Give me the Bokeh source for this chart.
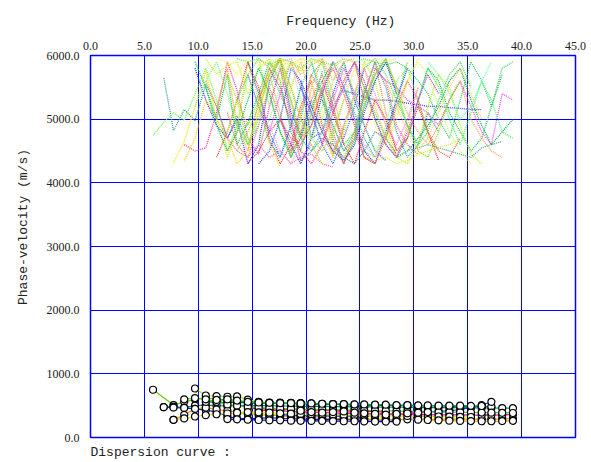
from bokeh.plotting import figure
from bokeh.models import Range1d, FixedTicker, PrintfTickFormatter, Title
from bokeh.embed import file_html
from bokeh.resources import INLINE

X_TICKS = [0, 5, 10, 15, 20, 25, 30, 35, 40, 45]
Y_TICKS = [0, 1000, 2000, 3000, 4000, 5000, 6000]
FREQ = [5.8, 6.8, 7.7, 8.7, 9.7, 10.7, 11.7, 12.7, 13.6, 14.6, 15.6, 16.6, 17.6, 18.6,
        19.5, 20.5, 21.5, 22.5, 23.5, 24.5, 25.4, 26.4, 27.4, 28.4, 29.4, 30.4, 31.3,
        32.3, 33.3, 34.3, 35.3, 36.3, 37.2, 38.2, 39.2]

# dotted (higher-mode) picks: colour, start index in FREQ, phase velocities
TOP_COLORS = ["#339999", "#66ff33", "#ffdd00", "#ff3399", "#3333ff", "#00cc33", "#ff9933",
              "#ff3333", "#ccff00", "#99ff00", "#ff33ff", "#33cc99", "#2255ff", "#33dd33",
              "#ff7733", "#ff5588", "#ffee33", "#88ff66", "#339999", "#3344ee", "#22bb44",
              "#ff9944", "#33cc66", "#ff44ff", "#aaff00", "#ff2222", "#00aa44", "#44aa88",
              "#ddee22", "#2233ff", "#ff66aa", "#ffcc00", "#55ee55", "#ffaa55", "#ff4444",
              "#338888", "#ccff66", "#33ff66",
              "#66ff66", "#ffff33", "#ff6666", "#00bb55", "#3366ff", "#99ff66", "#ff99cc",
              "#ffbb33", "#44dd88", "#cc33ff", "#77ee00", "#ff5555", "#55cc55", "#ffe066",
              "#33bbbb", "#ff77ff", "#88dd22", "#2244cc", "#ffcc66", "#66ffaa", "#ff3366",
              "#aadd00"]
TOP_START = [1, 0, 2, 3, 4, 4, 5, 6, 5, 7, 9, 8, 10, 11, 12, 13, 14, 15, 16, 18, 19, 20, 22,
             21, 17, 16, 23, 24, 20, 12, 6, 3, 8, 10, 9, 14, 21, 25,
             4, 6, 7, 5, 9, 10, 11, 13, 15, 17, 18, 19, 20, 12, 11, 16, 8, 14, 22, 26, 10, 7]
TOP_VEL = [
    [5650, 4820, 5150, 4980, 5550, 5200, 4700, 5050, 4600, 4900],
    [4750, 4950, 5100, 4980, 5400, 5800, 5300, 4500, 4900, 5700, 5950, 5200],
    [4320, 4650, 5200, 5750, 5000, 4400, 4800, 5900, 5300, 4600, 4250],
    [4600, 4500, 4550, 5100, 5900, 5450, 4700, 4450, 5200, 5800, 5000, 4350, 4600],
    [5800, 5300, 4900, 4700, 5000, 4300, 4600, 5600, 5950, 5100, 4750, 5300],
    [5900, 5500, 5000, 5700, 4600, 4950, 5400, 5900, 5600, 4800, 4500, 5100, 5750],
    [5600, 5200, 5800, 4900, 4500, 5300, 5700, 5100, 4400, 4800, 5500, 5950, 5400, 4700],
    [4400, 4800, 5300, 5900, 5500, 4700, 4300, 4600, 5200, 5600, 4900, 4450, 4850],
    [5950, 5700, 5850, 5900, 5400, 5800, 5950, 5600, 5900, 5750, 5950, 5850],
    [4800, 5300, 4600, 5100, 5700, 5950, 5200, 4700, 5000, 5500, 4400, 4900, 5300, 5800],
    [5700, 5200, 4800, 5400, 5900, 5500, 5100, 4600, 5300, 5800, 5400, 5000],
    [5300, 5700, 5200, 4650, 4400, 4900, 5500, 5900, 5300, 4700, 4300, 4650, 5200, 5600, 5900],
    [4300, 4500, 5000, 5800, 5600, 4700, 4800, 5400, 5900, 5300, 4900, 4500, 4350],
    [5400, 4800, 4450, 5000, 5700, 5900, 5200, 4600, 4800, 5500, 5100, 4700, 5300, 5900],
    [5800, 5300, 4700, 4900, 5500, 4600, 4300, 4800, 5400, 5900, 5100, 4500],
    [4500, 5100, 5700, 5400, 4800, 4300, 4700, 5200, 5800, 5600, 4900, 4600, 4450],
    [5950, 5600, 5000, 4700, 5300, 5800, 5500, 4900, 4600, 5000, 5600, 5950],
    [4700, 5200, 5900, 5700, 5000, 4500, 4400, 4900, 5600, 5800, 5300, 4700, 4500],
    [5300, 4900, 4500, 4700, 5400, 5900, 5500, 4800, 4400, 4600, 5100, 4800],
    [5450, 5400, 5350, 5300, 5300, 5280, 5250, 5230, 5200, 5200, 5180, 5170, 5150, 5150],
    [5900, 5500, 5000, 4600, 4400, 4700, 5300, 5800, 5600, 5100, 4800, 4500, 4700, 5200, 5700],
    [5300, 5700, 5950, 5500, 5100, 4800, 4600, 4900, 5300, 5600, 5000, 4700, 4500, 4400],
    [5850, 5900, 5800, 5600, 5400, 5000, 4700, 5300, 5900, 5600, 5200, 5800, 5900],
    [5800, 5600, 5500, 5300, 5200, 5100, 4900, 5300, 5600, 5200, 4800, 4600, 5400, 5300],
    [4500, 4800, 5400, 5900, 5600, 4900, 4400, 4300, 4600, 5200, 5700, 5500, 4900, 4450, 4300],
    [5600, 5100, 4600, 4300, 4800, 5300, 5000, 4500, 4700, 5200, 4800, 4350],
    [4400, 4500, 4700, 4900, 5200, 5600, 5800, 5300, 4900, 4600, 4800, 5000],
    [4500, 4550, 4600, 4550, 4500, 4450, 4400, 4550, 4600, 4650],
    [4400, 4350, 4400, 4300, 4350, 4450, 4500, 4550, 4600, 4700],
    [5000, 4600, 4300, 4700, 5400, 5900, 5500, 5000, 4500, 4300, 4800, 5300, 5800],
    [5200, 4700, 4500, 4400, 4600, 4400, 4500, 4300, 4400, 4450, 4300, 4250],
    [4350, 4700, 5300, 5000, 4700, 4300, 4500, 5100, 5700, 5900, 5400],
    [5950, 5900, 5950, 5850, 5950, 5900, 5800, 5950, 5900, 5850, 5950, 5900, 5950, 5900, 5850],
    [5950, 5800, 5900, 5950, 5700, 5850, 5950, 5600, 5900, 5950],
    [4300, 4500, 4800, 5000, 4700, 4600, 4900, 5500, 5800, 5400, 4900, 4400, 4300],
    [4350, 4500, 4700, 4600, 4400, 4300, 4500, 4800, 4700, 4450],
    [4400, 4700, 5100, 5600, 5900, 5700, 5200, 4800, 4500, 4300],
    [5300, 5800, 5500, 5000, 4600, 5100, 5600, 5300, 4800, 4700],
    [5200, 5600, 5900, 5400, 4900, 4600, 5000, 5500, 5850, 5300, 4800],
    [5950, 5900, 5700, 5950, 5850, 5900, 5950, 5800, 5950, 5900],
    [5100, 4600, 4400, 4900, 5500, 5000, 4500, 4700, 5300, 5700, 5200, 4600],
    [5500, 4900, 4500, 4800, 5300, 5800, 5400, 4800, 4400, 4700, 5200, 5600, 5900],
    [5900, 5400, 4800, 4400, 4900, 5500, 5100, 4600, 4300, 4700, 5200, 5800],
    [4600, 5000, 5500, 5900, 5300, 4700, 5000, 5600, 5900, 5400, 4900, 4500, 4800],
    [4900, 4500, 4300, 4600, 5100, 5500, 5900, 5500, 5000, 4600, 4400, 4800],
    [5500, 5900, 5300, 4800, 4400, 4900, 5400, 5800, 5200, 4700, 4400, 4900, 5500],
    [5900, 5400, 4900, 4500, 4800, 5300, 5700, 5950, 5400, 4900, 4600, 5000],
    [5100, 5500, 5900, 5600, 5000, 4600, 4400, 4800, 5300, 5700, 5400],
    [4400, 4700, 5200, 5700, 5950, 5500, 4900, 4500, 4400, 4800, 5300, 5600],
    [4800, 4400, 4300, 4700, 5200, 5600, 5300, 4800, 4500, 4400, 4700],
    [5800, 5950, 5700, 5300, 4900, 4600, 4800, 5300, 5700, 5900, 5500],
    [5950, 5850, 5950, 5900, 5950, 5800, 5950, 5900, 5850, 5950, 5900, 5950],
    [5800, 5400, 5000, 4700, 4500, 4800, 5200, 5500, 5100, 4700, 4400],
    [4700, 4500, 4900, 5400, 5800, 5400, 4900, 4600, 5000, 5500],
    [4500, 4800, 5200, 5700, 5950, 5500, 5000, 4700, 4500, 4800, 5300],
    [5600, 5200, 4800, 4500, 4350, 4600, 5100, 5600, 5900, 5400],
    [5600, 5200, 4800, 4500, 4700, 5100, 5500, 5800, 5400, 5000],
    [5900, 5700, 5400, 5000, 5200, 5600, 5900],
    [5300, 5800, 5500, 4900, 4500, 4300, 4600, 5100, 5600, 5900, 5300],
    [5700, 5300, 4900, 5300, 5800, 5950, 5500, 5000, 4600, 4300],
]

# fundamental-mode dispersion curves (solid lines with picks)
FIRST_FREQ = [5.8, 7.7, 8.7, 9.7, 10.7, 11.7, 12.7, 13.6, 14.6, 15.6, 16.6, 17.6, 18.6, 19.5]
FIRST_VEL = [750, 510, 560, 600, 620, 600, 580, 560, 550, 545, 540, 540, 535, 530]
FIRST_COLOR = "#66cc00"

BOT_COLORS = ["#99ee00", "#008877", "#0022dd", "#ff8800", "#dddd00", "#ff00cc", "#ff0033",
              "#006633", "#1133ff", "#33cc33", "#aaff00", "#0000cc", "#00aa66", "#ff9900",
              "#ff3399"]
BOT_START = [4, 1, 1, 2, 2, 10, 9, 5, 12, 3, 8, 7, 6, 25, 14]
BOT_VEL = [
    [770, 660, 650, 640, 645, 595, 560, 550, 550, 545, 540, 535, 530, 525, 520, 515],
    [477, 480, 470, 500, 510, 500, 495, 505, 500, 500, 500, 495, 495, 490, 490, 490, 485,
     485, 480, 480, 480, 475, 475, 475, 470, 470, 470, 470, 468, 466, 465, 463, 462, 460],
    [477, 470, 465, 450, 430, 400, 330, 300, 295, 300, 310, 300, 295, 290, 285, 285, 280,
     280, 285, 280, 275, 280, 278],
    [278, 356, 450, 470, 440, 420, 400, 380, 360, 350, 340, 330, 320, 310, 300, 300, 295,
     290, 290, 285, 280, 280, 285, 290, 290, 285, 290, 290, 290, 290, 290, 292, 295],
    [278, 300, 330, 350, 365, 377, 380, 375, 370, 365, 360, 355, 350, 345, 340, 340, 335,
     330, 330, 325, 320],
    [420, 430, 420, 410, 400, 400, 390, 385, 380, 380, 375, 370, 370, 365, 365, 360, 360,
     355, 355, 355, 352, 352, 352, 355, 360],
    [460, 455, 450, 445, 440, 440, 435, 430, 425, 420, 415, 410, 405, 400],
    [560, 555, 550, 550, 545, 540, 540, 535, 530, 530, 525, 520, 520, 515, 510, 510, 505,
     505, 500, 500, 498, 495, 495, 492, 490, 490, 488, 487],
    [360, 350, 345, 340, 340, 335, 335, 340, 345, 350, 360, 370, 380, 390, 400, 410, 420,
     440, 470, 510, 560],
    [600, 620, 600, 560, 520, 500, 480, 470, 460, 455, 450, 445, 440, 440, 435, 430, 430,
     425, 420, 420, 415, 410, 410, 405, 400, 400, 398, 395, 392, 390, 388, 385],
    [390, 400, 395, 390, 380, 375, 370, 365, 360, 360, 355, 350, 350, 345, 340, 340, 338,
     335, 330, 330, 328, 325, 322],
    [290, 285, 280, 275, 270, 270, 265, 262, 260, 260, 258, 255, 255, 252, 250, 250, 250],
    [590, 600, 580, 560, 550, 545, 540, 540, 535, 535, 530, 525, 525, 520, 520, 515, 515,
     510, 510, 505, 505, 500, 500, 500, 498, 495],
    [280, 275, 270, 265, 260, 258, 255, 255, 258, 262],
    [420, 400, 390, 400, 410, 390, 380, 370, 360, 370, 380, 390, 400],
]

TXT = "#222222"
MONO = "Liberation Mono"
SERIF = "Liberation Serif"
NB = "\u00a0"

p = figure(width=588, height=460, output_backend="svg", toolbar_location=None,
           x_range=Range1d(0, 45), y_range=Range1d(0, 6000), x_axis_location="above",
           min_border_left=90, min_border_right=13, min_border_top=55, min_border_bottom=23)
p.background_fill_color = "white"
p.border_fill_color = "white"
p.outline_line_color = "#0000ff"
p.outline_line_width = 1.5

for ax in (p.xaxis[0], p.yaxis[0]):
    ax.axis_line_color = None
    ax.major_tick_line_color = None
    ax.minor_tick_line_color = None
    ax.major_tick_out = 0
    ax.major_tick_in = 0
    ax.major_label_text_font = SERIF
    ax.major_label_text_font_size = "12px"
    ax.major_label_text_color = TXT
    ax.axis_label_text_font = MONO
    ax.axis_label_text_font_size = "13px"
    ax.axis_label_text_font_style = "normal"
    ax.axis_label_text_color = TXT
    ax.formatter = PrintfTickFormatter(format="%.1f")
p.xaxis[0].ticker = FixedTicker(ticks=X_TICKS)
p.yaxis[0].ticker = FixedTicker(ticks=Y_TICKS)
p.xaxis[0].major_label_standoff = 6
p.yaxis[0].major_label_standoff = 11
p.xaxis[0].axis_label = NB * 2 + "Frequency (Hz)"
p.xaxis[0].axis_label_standoff = 10
p.yaxis[0].axis_label = NB * 5 + "Phase-velocity (m/s)"
p.yaxis[0].axis_label_standoff = 13

p.xgrid.ticker = FixedTicker(ticks=X_TICKS)
p.ygrid.ticker = FixedTicker(ticks=Y_TICKS)
for g in (p.xgrid[0], p.ygrid[0]):
    g.grid_line_color = "#0000ff"
    g.grid_line_width = 1
    g.grid_line_alpha = 1

# dotted higher-mode picks
for col, k0, vel in zip(TOP_COLORS, TOP_START, TOP_VEL):
    fr = FREQ[k0:k0 + len(vel)]
    p.line(fr, vel, line_color=col, line_width=1.3, line_dash="1 1", line_alpha=1)

# fundamental mode curves
p.line(FIRST_FREQ, FIRST_VEL, line_color=FIRST_COLOR, line_width=1.2)
p.scatter(FIRST_FREQ, FIRST_VEL, marker="circle", size=7, fill_color="white",
          line_color="black", line_width=1.2)
for col, k0, vel in zip(BOT_COLORS, BOT_START, BOT_VEL):
    fr = FREQ[k0:k0 + len(vel)]
    p.line(fr, vel, line_color=col, line_width=1.2)
    p.scatter(fr, vel, marker="circle", size=7, fill_color="white",
              line_color="black", line_width=1.2)

# small spacer so that the caption sits a few pixels lower
p.add_layout(Title(text=NB, align="left", text_font=MONO, text_font_size="3px",
                   standoff=0, offset=0), "below")
p.add_layout(Title(text="Dispersion curve :", align="left", text_font=MONO,
                   text_font_size="13px", text_font_style="normal", text_color=TXT,
                   standoff=0, offset=0), "below")

open("out.html", "w").write(file_html(p, INLINE))
